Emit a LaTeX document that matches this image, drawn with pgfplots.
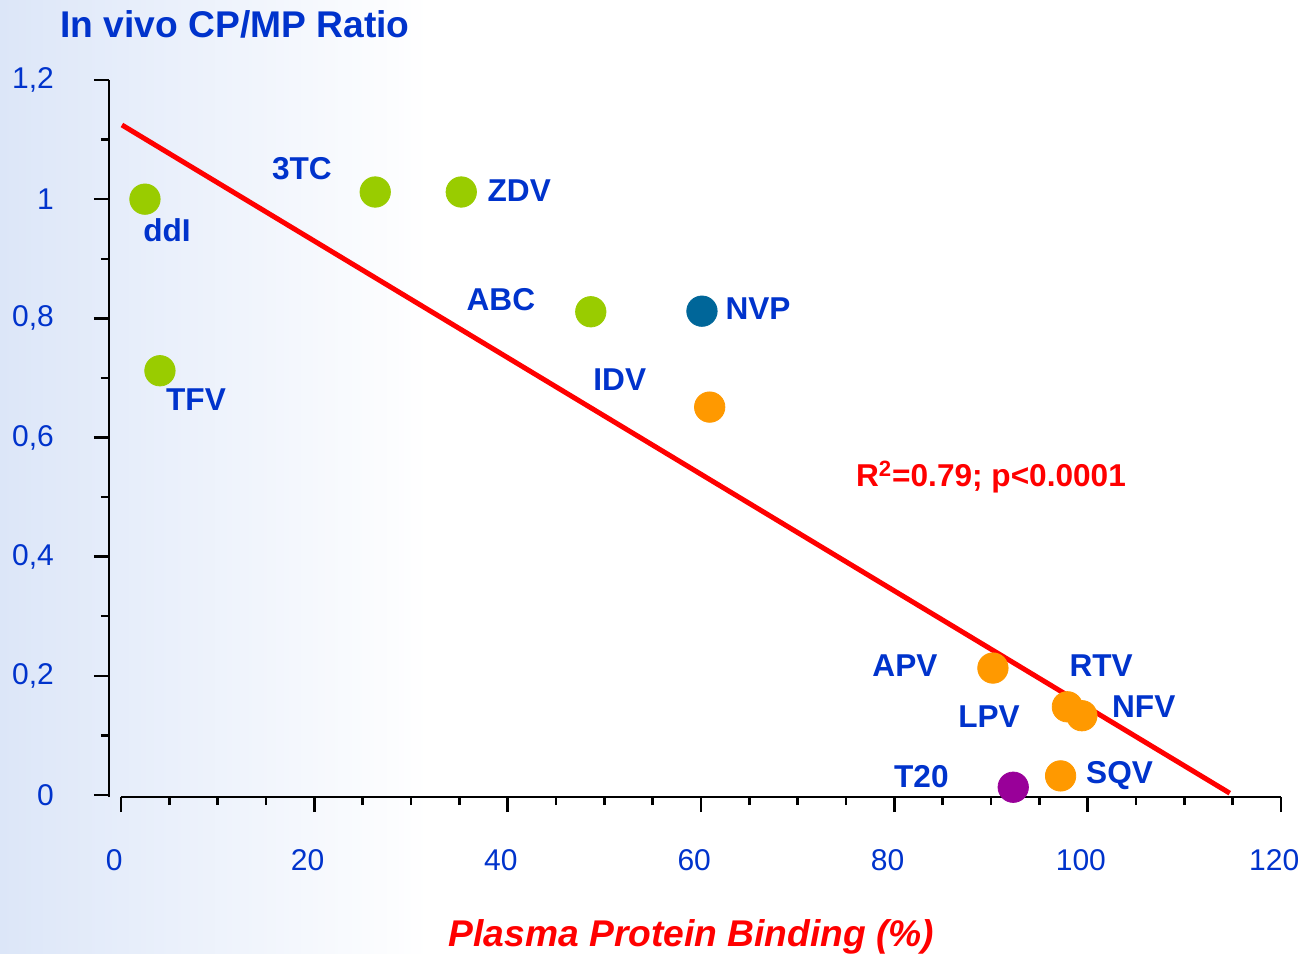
\documentclass[border=0pt]{standalone}
\usepackage{pgfplots}
\pgfplotsset{compat=1.18}
\usepackage{fontspec}
\setmainfont{Liberation Sans}
\definecolor{lblue}{HTML}{0033CC}
\definecolor{lgreen}{HTML}{99CC00}
\definecolor{lorange}{HTML}{FF9900}
\definecolor{lnavy}{HTML}{006699}
\definecolor{lpurple}{HTML}{990099}
\definecolor{bgblue}{HTML}{DCE6F8}
\begin{document}
\begin{tikzpicture}
\path[use as bounding box] (-54.5pt,-78.5pt) rectangle (597pt,398.5pt);
\shade[left color=bgblue, right color=white] (-54.5pt,-78.5pt) rectangle (160pt,398.5pt);
\begin{axis}[
  at={(0pt,0pt)}, anchor=south west,
  scale only axis, width=586pt, height=358.5pt,
  xmin=-1.24, xmax=120, ymin=-0.0034, ymax=1.2,
  axis lines=left, axis line style={-, black, line width=1.4pt},
  x axis line style={draw=none},
  clip=false,
  xtick={0,20,...,120}, minor x tick num=3,
  ytick={0,0.2,0.4,0.6,0.8,1,1.2}, minor y tick num=1,
  yticklabels={0,{0,2},{0,4},{0,6},{0,8},1,{1,2}},
  tick align=outside, major tick length=7.5pt, minor tick length=4pt,
  every tick/.style={black, line width=1.2pt},
  /pgf/number format/assume math mode=true,
  tick label style={font=\fontsize{15}{15}\selectfont, text=lblue},
  xticklabel style={yshift=-15pt, xshift=-3.4pt},
  yticklabel style={xshift=-16.5pt},
]
\draw[black, line width=1.4pt] (axis cs:0,-0.0034) -- (axis cs:120,-0.0034);
\addplot[red, line width=2.5pt] coordinates {(0.1,1.1245) (114.7,0.003)};
\addplot[only marks, mark=*, mark size=7.6pt, color=lgreen, mark options={draw=none, fill=lgreen}]
  coordinates {(2.48,1.0) (4.03,0.712) (26.3,1.012) (35.2,1.012) (48.6,0.811)};
\addplot[only marks, mark=*, mark size=7.6pt, color=lorange, mark options={draw=none, fill=lorange}]
  coordinates {(60.9,0.651) (90.2,0.213) (97.9,0.148) (99.4,0.133) (97.2,0.032)};
\addplot[only marks, mark=*, mark size=7.6pt, color=lnavy, mark options={draw=none, fill=lnavy}]
  coordinates {(60.1,0.812)};
\addplot[only marks, mark=*, mark size=7.6pt, color=lpurple, mark options={draw=none, fill=lpurple}]
  coordinates {(92.3,0.013)};
\tikzset{lab/.style={font=\fontsize{15.8}{16}\selectfont\bfseries, text=lblue, inner sep=0pt}}
\node[lab] at (axis cs:18.72,1.051) {3TC};
\node[lab] at (axis cs:41.2,1.015) {ZDV};
\node[lab] at (axis cs:4.76,0.948) {ddI};
\node[lab] at (axis cs:39.3,0.831) {ABC};
\node[lab] at (axis cs:65.9,0.816) {NVP};
\node[lab] at (axis cs:7.76,0.663) {TFV};
\node[lab] at (axis cs:51.6,0.697) {IDV};
\node[lab] at (axis cs:81.1,0.2165) {APV};
\node[lab] at (axis cs:101.4,0.2165) {RTV};
\node[lab] at (axis cs:105.8,0.149) {NFV};
\node[lab] at (axis cs:89.8,0.131) {LPV};
\node[lab] at (axis cs:82.8,0.030) {T20};
\node[lab] at (axis cs:103.3,0.032) {SQV};
\node[font=\fontsize{15.8}{16}\selectfont\bfseries, text=red, inner sep=0pt] at (axis cs:90.0,0.534) {R\textsuperscript{2}=0.79; p<0.0001};
\node[font=\fontsize{18.6}{19}\selectfont\bfseries\itshape, text=red, inner sep=0pt] at (axis description cs:0.497,-0.195) {Plasma Protein Binding (\%)};
\node[font=\fontsize{18.6}{19}\selectfont\bfseries, text=lblue, anchor=west, inner sep=0pt] at (axis description cs:-0.0418,1.078) {In vivo CP/MP Ratio};
\end{axis}
\end{tikzpicture}
\end{document}
